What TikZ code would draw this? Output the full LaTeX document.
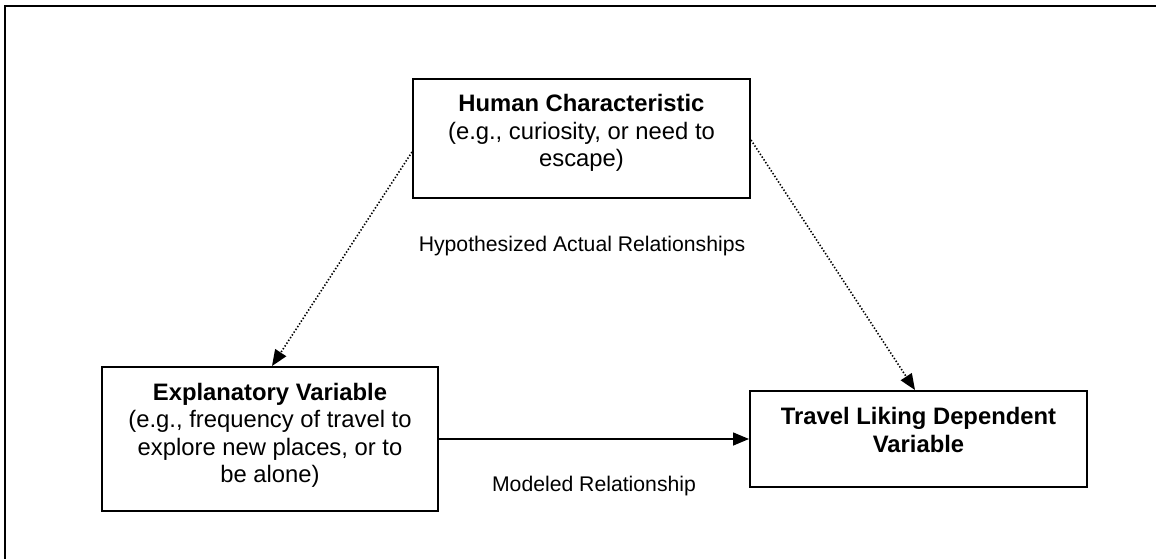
\documentclass[tikz,border=0pt]{standalone}
\usepackage{fontspec}
\setmainfont{Liberation Sans}
\usetikzlibrary{arrows.meta}
\begin{document}
\begin{tikzpicture}[x=1pt,y=-1pt,
  box/.style={draw, line width=2pt, inner sep=0pt},
  boxtext/.style={inner sep=0pt, align=center, font=\fontsize{23.8}{27.6}\selectfont},
  lbl/.style={inner sep=0pt, font=\fontsize{21.2}{24.4}\selectfont},
  dotarrow/.style={line width=1.6pt, dash pattern=on 1.4pt off 1.9pt, -{Triangle[length=16pt,width=13pt]}},
  solidarrow/.style={line width=1.5pt, -{Triangle[length=16pt,width=13pt]}},
  frame/.style={line width=2.6pt}]
\useasboundingbox (0,0) rectangle (1156,559);
% outer frame (right and bottom edges lie outside the picture)
\coordinate (fbl) at (5,620);
\coordinate (ftl) at (5,6);
\coordinate (ftr) at (1220,6);
\draw[frame] (fbl) -- (ftl) -- (ftr);
% boxes
\node[box, minimum width=337pt, minimum height=119pt] (hc) at (581.5,138.5) {};
\node[box, minimum width=336pt, minimum height=144pt] (ev) at (270,439) {};
\node[box, minimum width=337pt, minimum height=96pt] (tl) at (918.5,439) {};
% box texts (base anchor = baseline of last line)
\node[boxtext, anchor=base] (hct) at (581.5,166.9) {\textbf{Human Characteristic}\\(e.g., curiosity, or need to\\escape)};
\node[boxtext, anchor=base] (evt) at (270,482.8) {\textbf{Explanatory Variable}\\(e.g., frequency of travel to\\explore new places, or to\\be alone)};
\node[boxtext, anchor=base] (tlt) at (918.5,452.1) {\textbf{Travel Liking Dependent}\\\textbf{Variable}};
% connectors
\draw[dotarrow] ([yshift=-13.5pt]hc.west) -- ([xshift=2pt]ev.north);
\draw[dotarrow] ([yshift=-1.5pt]hc.east) -- ([xshift=-3.5pt]tl.north);
\draw[solidarrow] (ev.east) -- (tl.west);
% labels
\node[lbl, anchor=base] (hyp) at (582,251.7) {Hypothesized Actual Relationships};
\node[lbl, anchor=base] (mod) at (594,491.7) {Modeled Relationship};
\end{tikzpicture}
\end{document}
